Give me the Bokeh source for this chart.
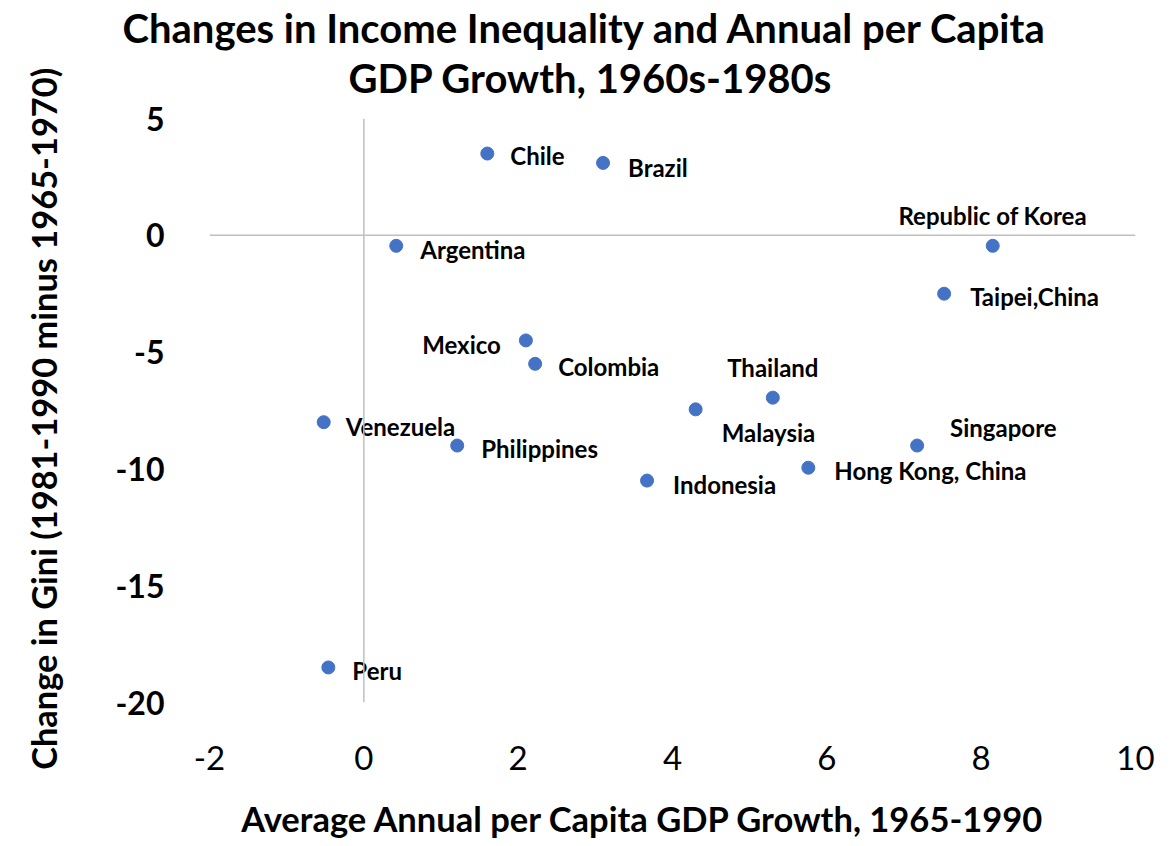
from bokeh.plotting import figure
from bokeh.models import ColumnDataSource, Range1d, FixedTicker, Span, Title
from bokeh.core.properties import value
from bokeh.embed import file_html
from bokeh.resources import INLINE

# ---- data ----
countries = ["Chile", "Brazil", "Republic of Korea", "Argentina", "Taipei,China",
             "Mexico", "Colombia", "Thailand", "Malaysia", "Venezuela",
             "Philippines", "Singapore", "Hong Kong, China", "Indonesia", "Peru"]
gdp_growth = [1.6, 3.1, 8.15, 0.42, 7.52, 2.1, 2.22, 5.3, 4.3, -0.52,
              1.21, 7.17, 5.76, 3.67, -0.46]
gini_change = [3.5, 3.1, -0.45, -0.45, -2.5, -4.5, -5.5, -6.95, -7.45, -8.0,
               -9.0, -9.0, -9.95, -10.5, -18.5]
x_ticks = [-2, 0, 2, 4, 6, 8, 10]
y_ticks = [-20, -15, -10, -5, 0, 5]

title_lines = ["Changes in Income Inequality and Annual per Capita",
               "GDP Growth, 1960s-1980s"]
x_title = "Average Annual per Capita GDP Growth, 1965-1990"
y_title = "Change in Gini (1981-1990 minus 1965-1970)"

# ---- label placement (screen pixel offsets, style only) ----
label_dx = [23, 25, 0, 24, 26, -25, 23, 0, 26, 22, 24, 33, 26, 26, 24]
label_dy = [2, 5, -30, 4, 3, 4, 3, -30, 23, 4, 3, -18, 3, 4, 3]
label_align = ["left", "left", "center", "left", "left", "right", "left", "center",
               "left", "left", "left", "left", "left", "left", "left"]

FONT = "Lato"
W, H = 1176, 846
NB = "\u00a0"

src = ColumnDataSource(dict(x=gdp_growth, y=gini_change, name=countries,
                            dx=label_dx, dy=label_dy, align=label_align))

p = figure(width=W, height=H, output_backend="svg", toolbar_location=None,
           x_range=Range1d(-2, 10), y_range=Range1d(-20, 5),
           min_border_left=209, min_border_right=41,
           min_border_top=118, min_border_bottom=144)
p.outline_line_color = None
p.xgrid.visible = False
p.ygrid.visible = False
p.background_fill_color = "white"
p.border_fill_color = "white"

for ax in (p.xaxis[0], p.yaxis[0]):
    ax.axis_line_color = None
    ax.major_tick_line_color = None
    ax.minor_tick_line_color = None
    ax.major_label_text_font = FONT
    ax.major_label_text_color = "black"
    ax.axis_label_text_font = FONT
    ax.axis_label_text_font_style = "bold"
    ax.axis_label_text_color = "black"

p.xaxis.ticker = FixedTicker(ticks=x_ticks)
p.yaxis.ticker = FixedTicker(ticks=y_ticks)
p.xaxis.major_label_overrides = {t: str(t) for t in x_ticks}
p.yaxis.major_label_overrides = {t: str(t) for t in y_ticks}
p.xaxis.major_label_text_font_size = "33px"
p.xaxis.major_label_text_font_style = "normal"
p.xaxis.major_label_standoff = 37
p.yaxis.major_label_text_font_size = "32px"
p.yaxis.major_label_text_font_style = "bold"
p.yaxis.major_label_standoff = 39

# axis titles (trailing no-break spaces shift the centred text like the reference)
p.xaxis.axis_label = x_title + NB * 7
p.xaxis.axis_label_text_font_size = "34.5px"
p.xaxis.axis_label_standoff = 25
p.yaxis.axis_label = y_title + NB * 2
p.yaxis.axis_label_text_font_size = "34.4px"
p.yaxis.axis_label_standoff = 48

p.add_layout(Span(location=0, dimension="height", line_color="#bfbfbf", line_width=1.5))
p.add_layout(Span(location=0, dimension="width", line_color="#bfbfbf", line_width=1.5))

p.scatter("x", "y", source=src, size=13, color="#4472C4", line_color="#4472C4")
p.text("x", "y", text="name", source=src, x_offset="dx", y_offset="dy",
       text_align="align", text_baseline="middle",
       text_font=value(FONT), text_font_style="bold", text_font_size="24px",
       text_color="black")

# two-line title: second line nearest the frame is added first
p.add_layout(Title(text=title_lines[1], align="left", offset=139,
                   text_font=FONT, text_font_size="40px", text_font_style="bold",
                   text_color="black", vertical_align="bottom", standoff=34), "above")
p.add_layout(Title(text=title_lines[0], align="left", offset=-87,
                   text_font=FONT, text_font_size="40px", text_font_style="bold",
                   text_color="black", vertical_align="bottom", standoff=-34), "above")

open("out.html", "w").write(file_html(p, INLINE))
